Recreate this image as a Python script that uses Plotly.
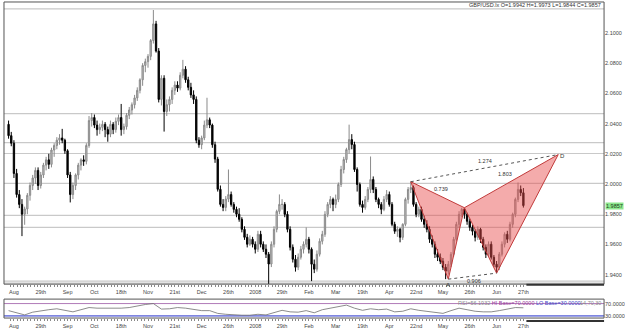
import plotly.graph_objects as go

# ---------------- data ----------------
symbol = "GBP/USD.lx"

opens = [
    2.0395, 2.0320, 2.0270, 2.0070, 1.9930, 1.9865, 1.9800, 1.9835, 1.9925, 1.9990,
    2.0040, 2.0090, 1.9990, 2.0060, 2.0125, 2.0160, 2.0130, 2.0225, 2.0255, 2.0290,
    2.0305, 2.0290, 2.0220, 2.0060, 1.9930, 1.9990, 2.0060, 2.0125, 2.0160, 2.0150,
    2.0255, 2.0420, 2.0440, 2.0390, 2.0360, 2.0375, 2.0395, 2.0360, 2.0330, 2.0395,
    2.0360, 2.0415, 2.0440, 2.0360, 2.0380, 2.0455, 2.0490, 2.0525, 2.0570, 2.0620,
    2.0690, 2.0785, 2.0810, 2.0845, 2.0950, 2.1060, 2.0880, 2.0560, 2.0700, 2.0480,
    2.0525, 2.0560, 2.0620, 2.0655, 2.0635, 2.0720, 2.0760, 2.0690, 2.0640, 2.0590,
    2.0560, 2.0290, 2.0260, 2.0305, 2.0390, 2.0425, 2.0390, 2.0260, 2.0165, 1.9965,
    1.9865, 1.9845, 1.9900, 1.9930, 1.9865, 1.9832, 1.9800, 1.9766, 1.9700, 1.9647,
    1.9601, 1.9634, 1.9601, 1.9568, 1.9667, 1.9601, 1.9568, 1.9535, 1.9470, 1.9601,
    1.9700, 1.9819, 1.9865, 1.9865, 1.9799, 1.9700, 1.9581, 1.9502, 1.9449, 1.9515,
    1.9568, 1.9601, 1.9634, 1.9568, 1.9469, 1.9436, 1.9535, 1.9621, 1.9667, 1.9799,
    1.9865, 1.9898, 1.9865, 1.9898, 1.9997, 2.0096, 2.0162, 2.0228, 2.0294, 2.0261,
    2.0096, 1.9997, 1.9865, 1.9845, 1.9898, 1.9964, 2.0030, 1.9964, 1.9898, 1.9865,
    1.9832, 1.9898, 1.9931, 1.9865, 1.9733, 1.9687, 1.9700, 1.9647, 1.9733, 1.9898,
    1.9964, 1.9977, 1.9865, 1.9799, 1.9832, 1.9766, 1.9733, 1.9700, 1.9634, 1.9601,
    1.9535, 1.9515, 1.9489, 1.9449, 1.9423, 1.9469, 1.9535, 1.9634, 1.9733, 1.9799,
    1.9832, 1.9799, 1.9753, 1.9713, 1.9687, 1.9647, 1.9700, 1.9634, 1.9581, 1.9535,
    1.9601, 1.9515, 1.9469, 1.9449, 1.9535, 1.9601, 1.9667, 1.9634, 1.9733, 1.9799,
    1.9898, 1.9964, 1.9942]

highs = [
    2.0420, 2.0345, 2.0290, 2.0100, 1.9960, 1.9900, 1.9850, 1.9940, 2.0010, 2.0060,
    2.0110, 2.0110, 2.0080, 2.0140, 2.0180, 2.0200, 2.0240, 2.0270, 2.0310, 2.0330,
    2.0365, 2.0300, 2.0230, 2.0080, 2.0010, 2.0070, 2.0140, 2.0170, 2.0190, 2.0270,
    2.0450, 2.0470, 2.0460, 2.0420, 2.0400, 2.0420, 2.0410, 2.0380, 2.0420, 2.0410,
    2.0440, 2.0460, 2.0530, 2.0400, 2.0470, 2.0510, 2.0540, 2.0590, 2.0640, 2.0700,
    2.0800, 2.0830, 2.0860, 2.0960, 2.1152, 2.1080, 2.0900, 2.0720, 2.0720, 2.0560,
    2.0580, 2.0640, 2.0680, 2.0680, 2.0740, 2.0822, 2.0780, 2.0710, 2.0670, 2.0620,
    2.0580, 2.0310, 2.0320, 2.0420, 2.0571, 2.0440, 2.0400, 2.0280, 2.0180, 1.9990,
    1.9900, 1.9920, 2.0096, 1.9950, 1.9880, 1.9850, 1.9840, 1.9780, 1.9720, 1.9670,
    1.9660, 1.9650, 1.9620, 1.9690, 1.9690, 1.9620, 1.9600, 1.9550, 1.9620, 1.9720,
    1.9830, 1.9931, 1.9900, 1.9880, 1.9820, 1.9720, 1.9600, 1.9530, 1.9540, 1.9590,
    1.9620, 1.9713, 1.9650, 1.9580, 1.9500, 1.9560, 1.9640, 1.9690, 1.9820, 1.9880,
    1.9920, 1.9910, 1.9930, 2.0010, 2.0120, 2.0180, 2.0240, 2.0393, 2.0330, 2.0280,
    2.0110, 2.0010, 1.9890, 1.9920, 1.9980, 2.0182, 2.0050, 1.9980, 1.9910, 1.9880,
    1.9920, 1.9960, 1.9950, 1.9880, 1.9750, 1.9720, 1.9710, 1.9740, 1.9910, 1.9980,
    2.0015, 1.9990, 1.9880, 1.9850, 1.9850, 1.9790, 1.9760, 1.9720, 1.9660, 1.9620,
    1.9570, 1.9540, 1.9510, 1.9470, 1.9490, 1.9550, 1.9650, 1.9750, 1.9820, 1.9843,
    1.9840, 1.9810, 1.9770, 1.9730, 1.9700, 1.9720, 1.9710, 1.9650, 1.9600, 1.9620,
    1.9620, 1.9530, 1.9490, 1.9550, 1.9620, 1.9680, 1.9690, 1.9750, 1.9810, 1.9910,
    2.0010, 1.9990, 1.9973]

lows = [
    2.0300, 2.0250, 2.0040, 1.9910, 1.9840, 1.9655, 1.9730, 1.9800, 1.9890, 1.9960,
    2.0000, 1.9960, 1.9970, 2.0040, 2.0090, 2.0100, 2.0110, 2.0180, 2.0230, 2.0260,
    2.0270, 2.0200, 2.0040, 1.9878, 1.9900, 1.9960, 2.0030, 2.0090, 2.0120, 2.0130,
    2.0240, 2.0380, 2.0370, 2.0320, 2.0330, 2.0350, 2.0310, 2.0280, 2.0310, 2.0330,
    2.0340, 2.0390, 2.0320, 2.0330, 2.0360, 2.0430, 2.0460, 2.0500, 2.0550, 2.0600,
    2.0650, 2.0740, 2.0770, 2.0820, 2.0930, 2.0870, 2.0540, 2.0520, 2.0347, 2.0450,
    2.0480, 2.0530, 2.0590, 2.0610, 2.0620, 2.0700, 2.0670, 2.0620, 2.0570, 2.0530,
    2.0270, 2.0240, 2.0230, 2.0290, 2.0370, 2.0370, 2.0240, 2.0140, 1.9950, 1.9850,
    1.9820, 1.9820, 1.9880, 1.9850, 1.9810, 1.9780, 1.9750, 1.9680, 1.9630, 1.9580,
    1.9590, 1.9580, 1.9540, 1.9550, 1.9580, 1.9550, 1.9510, 1.9337, 1.9450, 1.9580,
    1.9680, 1.9800, 1.9830, 1.9780, 1.9680, 1.9560, 1.9480, 1.9420, 1.9430, 1.9500,
    1.9540, 1.9580, 1.9540, 1.9357, 1.9410, 1.9420, 1.9520, 1.9600, 1.9650, 1.9780,
    1.9840, 1.9820, 1.9840, 1.9880, 1.9980, 2.0070, 2.0140, 2.0200, 2.0230, 2.0080,
    1.9950, 1.9850, 1.9810, 1.9830, 1.9880, 1.9940, 1.9940, 1.9880, 1.9840, 1.9800,
    1.9820, 1.9880, 1.9850, 1.9720, 1.9670, 1.9650, 1.9614, 1.9630, 1.9720, 1.9870,
    1.9940, 1.9850, 1.9780, 1.9780, 1.9750, 1.9710, 1.9680, 1.9610, 1.9580, 1.9510,
    1.9490, 1.9470, 1.9430, 1.9370, 1.9400, 1.9450, 1.9520, 1.9620, 1.9710, 1.9780,
    1.9770, 1.9730, 1.9690, 1.9660, 1.9620, 1.9630, 1.9610, 1.9560, 1.9510, 1.9520,
    1.9500, 1.9450, 1.9410, 1.9430, 1.9520, 1.9580, 1.9610, 1.9620, 1.9710, 1.9780,
    1.9880, 1.9920, 1.9844]

closes = [
    2.0320, 2.0270, 2.0070, 1.9930, 1.9865, 1.9800, 1.9835, 1.9925, 1.9990, 2.0040,
    2.0090, 1.9990, 2.0060, 2.0125, 2.0160, 2.0130, 2.0225, 2.0255, 2.0290, 2.0305,
    2.0290, 2.0220, 2.0060, 1.9930, 1.9990, 2.0060, 2.0125, 2.0160, 2.0150, 2.0255,
    2.0420, 2.0440, 2.0390, 2.0360, 2.0375, 2.0395, 2.0360, 2.0330, 2.0395, 2.0360,
    2.0415, 2.0440, 2.0360, 2.0380, 2.0455, 2.0490, 2.0525, 2.0570, 2.0620, 2.0690,
    2.0785, 2.0810, 2.0845, 2.0950, 2.1060, 2.0880, 2.0560, 2.0700, 2.0480, 2.0525,
    2.0560, 2.0620, 2.0655, 2.0635, 2.0720, 2.0760, 2.0690, 2.0640, 2.0590, 2.0560,
    2.0290, 2.0260, 2.0305, 2.0390, 2.0425, 2.0390, 2.0260, 2.0165, 1.9965, 1.9865,
    1.9845, 1.9900, 1.9930, 1.9865, 1.9832, 1.9800, 1.9766, 1.9700, 1.9647, 1.9601,
    1.9634, 1.9601, 1.9568, 1.9667, 1.9601, 1.9568, 1.9535, 1.9470, 1.9601, 1.9700,
    1.9819, 1.9865, 1.9865, 1.9799, 1.9700, 1.9581, 1.9502, 1.9449, 1.9515, 1.9568,
    1.9601, 1.9634, 1.9568, 1.9469, 1.9436, 1.9535, 1.9621, 1.9667, 1.9799, 1.9865,
    1.9898, 1.9865, 1.9898, 1.9997, 2.0096, 2.0162, 2.0228, 2.0294, 2.0261, 2.0096,
    1.9997, 1.9865, 1.9845, 1.9898, 1.9964, 2.0030, 1.9964, 1.9898, 1.9865, 1.9832,
    1.9898, 1.9931, 1.9865, 1.9733, 1.9687, 1.9700, 1.9647, 1.9733, 1.9898, 1.9964,
    1.9977, 1.9865, 1.9799, 1.9832, 1.9766, 1.9733, 1.9700, 1.9634, 1.9601, 1.9535,
    1.9515, 1.9489, 1.9449, 1.9423, 1.9469, 1.9535, 1.9634, 1.9733, 1.9799, 1.9832,
    1.9799, 1.9753, 1.9713, 1.9687, 1.9647, 1.9700, 1.9634, 1.9581, 1.9535, 1.9601,
    1.9515, 1.9469, 1.9449, 1.9535, 1.9601, 1.9667, 1.9634, 1.9733, 1.9799, 1.9898,
    1.9964, 1.9942, 1.9857]

# RSI readings (every third bar)
rsi_values = [47, 40, 33, 42, 47, 50, 53, 47, 43, 50,
              57, 55, 55, 53, 55, 57, 63, 67, 70, 52,
              53, 57, 55, 52, 47, 47, 38, 35, 33, 32,
              32, 35, 33, 40, 48, 43, 42, 47, 40, 50,
              55, 60, 65, 55, 48, 53, 50, 52, 43, 45,
              53, 48, 45, 42, 38, 47, 55, 50, 45, 43,
              43, 47, 52, 57, 56.1932]
rsi_step = 3
rsi_hi, rsi_lo = 70, 30

# x-axis labels (one every 10 bars, starting at bar 2)
x_labels = ["Aug", "29th", "Sep", "Oct", "18th", "Nov", "21st", "Dec", "26th", "2008",
            "29th", "Feb", "Mar", "19th", "Apr", "22nd", "May", "26th", "Jun", "27th"]
label_first, label_every = 2, 10

# price axis ticks
price_ticks = [1.94, 1.96, 1.98, 2.00, 2.02, 2.04, 2.06, 2.08, 2.10]

# horizontal levels drawn on the chart
levels = [2.1159, 2.0466, 2.0274, 2.0202, 2.0004, 1.9792, 1.9713, 1.9357, 1.9344]

# harmonic pattern points X, A, B, C, D
pattern_names = ["X", "A", "B", "C", "D"]
pattern_bars = [150, 164, 170, 182, 205]
pattern_prices = [2.0015, 1.9370, 1.9843, 1.9410, 2.0195]
ratio_texts = {"XB": "0.739", "AC": "0.906", "XD": "1.274", "BD": "1.803"}

# ---------------- layout geometry (pixels) ----------------
W, H = 625, 332
LEFT, RIGHT = 4, 606
MAIN_TOP, MAIN_BOT = 2, 285
SUB_TOP, SUB_BOT = 300, 319
BAR_PX = 2.69
BAR0_PX = 8.6
FONT = "Liberation Sans"


def fx(p):
    return p / W


def fy(p):
    return 1 - p / H


bars = list(range(len(closes)))
x_lo = (LEFT - BAR0_PX) / BAR_PX
x_hi = (RIGHT - BAR0_PX) / BAR_PX
y_lo, y_hi = 1.9337, 2.1205
r_lo, r_hi = 22.8, 84.6

fig = go.Figure()

fig.add_trace(go.Candlestick(
    x=bars, open=opens, high=highs, low=lows, close=closes,
    increasing=dict(line=dict(color="#8a8a8a", width=1), fillcolor="#c4c4c4"),
    decreasing=dict(line=dict(color="#000000", width=1), fillcolor="#000000"),
    whiskerwidth=0, showlegend=False, hoverinfo="skip", xaxis="x", yaxis="y"))

# pattern triangles X-A-B and B-C-D
for tri in ([0, 1, 2, 0], [2, 3, 4, 2]):
    fig.add_trace(go.Scatter(
        x=[pattern_bars[i] for i in tri], y=[pattern_prices[i] for i in tri],
        mode="lines", fill="toself", fillcolor="rgba(232,76,76,0.47)",
        line=dict(color="#c03a3a", width=1), showlegend=False, hoverinfo="skip",
        xaxis="x", yaxis="y"))

# dotted X-D and A-C
for a, b in ((0, 4), (1, 3)):
    fig.add_trace(go.Scatter(
        x=[pattern_bars[a], pattern_bars[b]], y=[pattern_prices[a], pattern_prices[b]],
        mode="lines", line=dict(color="#555555", width=1, dash="dot"),
        showlegend=False, hoverinfo="skip", xaxis="x", yaxis="y"))

# RSI line
rsi_x = [i * rsi_step for i in range(len(rsi_values))]
fig.add_trace(go.Scatter(
    x=rsi_x, y=rsi_values, mode="lines", line=dict(color="#6e6e6e", width=0.8),
    showlegend=False, hoverinfo="skip", xaxis="x2", yaxis="y2"))

shapes = []
for lv in levels:
    shapes.append(dict(type="line", xref="x domain", yref="y", x0=0, x1=1, y0=lv, y1=lv,
                       line=dict(color="#c9c9c9", width=1.2), layer="below"))
# RSI base lines
shapes.append(dict(type="line", xref="x2 domain", yref="y2", x0=0, x1=1, y0=rsi_hi, y1=rsi_hi,
                   line=dict(color="#b07ab8", width=1), layer="below"))
shapes.append(dict(type="line", xref="x2 domain", yref="y2", x0=0, x1=1, y0=rsi_lo, y1=rsi_lo,
                   line=dict(color="#7f86e0", width=1.8), layer="below"))
# frames
for top, bot in ((MAIN_TOP, MAIN_BOT), (SUB_TOP, SUB_BOT)):
    shapes.append(dict(type="rect", xref="paper", yref="paper",
                       x0=fx(LEFT), x1=fx(RIGHT), y0=fy(bot), y1=fy(top),
                       line=dict(color="#555555", width=1), fillcolor="rgba(0,0,0,0)"))
# dark segment after last bar on bottom edges
last_px = BAR0_PX + BAR_PX * bars[-1] + 3
shapes.append(dict(type="line", xref="paper", yref="paper", x0=fx(last_px), x1=fx(RIGHT),
                   y0=fy(MAIN_BOT + 0.5), y1=fy(MAIN_BOT + 0.5), line=dict(color="#333333", width=2)))
shapes.append(dict(type="line", xref="paper", yref="paper", x0=fx(last_px), x1=fx(RIGHT),
                   y0=fy(SUB_BOT + 3), y1=fy(SUB_BOT + 3), line=dict(color="#333333", width=2)))

annotations = []
# title readout
annotations.append(dict(
    xref="paper", yref="paper", x=fx(RIGHT - 1), y=fy(5.5), xanchor="right", yanchor="middle",
    text=f"{symbol} O={opens[-1]:.4f} H={highs[-1]:.4f} L={lows[-1]:.4f} C={closes[-1]:.4f}",
    showarrow=False, font=dict(family=FONT, size=5.5, color="#333333")))
# current price box
annotations.append(dict(
    xref="paper", yref="y", x=fx(RIGHT + 1), y=closes[-1], xanchor="left", yanchor="middle",
    text=f"{closes[-1]:.4f}", showarrow=False, bgcolor="#8de88d", borderpad=0,
    font=dict(family=FONT, size=5.5, color="#1a3a1a")))
# RSI readout
annotations.append(dict(
    xref="paper", yref="paper", x=fx(585), y=fy(303.5), xanchor="right", yanchor="middle",
    text=(f'<span style="color:#8a8a8a">RSI={rsi_values[-1]:.4f}</span> '
          f'<span style="color:#9a3c9a">HI Base={rsi_hi:.4f}</span> '
          f'<span style="color:#3c46c8">LO Base={rsi_lo:.4f}</span>'),
    showarrow=False, font=dict(family=FONT, size=5.5)))
annotations.append(dict(
    xref="paper", yref="paper", x=fx(605), y=fy(303.5), xanchor="right", yanchor="middle",
    text=f"14,{rsi_hi},{rsi_lo}", showarrow=False, font=dict(family=FONT, size=5.5, color="#8a8a8a")))

# pattern point labels
annotations.append(dict(x=pattern_bars[1], y=pattern_prices[1], xref="x", yref="y", text="A",
                        showarrow=False, yshift=-6, font=dict(family=FONT, size=6, color="#333")))
annotations.append(dict(x=pattern_bars[4], y=pattern_prices[4], xref="x", yref="y", text="D",
                        showarrow=False, xshift=4, yshift=-1, font=dict(family=FONT, size=6, color="#333")))
# ratio labels
ratio_pairs = {"XB": (0, 2, 3, 6), "AC": (1, 3, 2, -5), "XD": (0, 4, 0, 7), "BD": (2, 4, -6, 7)}
for key, (a, b, dx, dy) in ratio_pairs.items():
    annotations.append(dict(
        x=(pattern_bars[a] + pattern_bars[b]) / 2, y=(pattern_prices[a] + pattern_prices[b]) / 2,
        xref="x", yref="y", text=ratio_texts[key], showarrow=False, xshift=dx, yshift=dy,
        font=dict(family=FONT, size=5.5, color="#333")))

tickvals = [label_first + label_every * i for i in range(len(x_labels))]
minor_vals = [label_first - 1.25 + 1.25 * k for k in range(int((bars[-1] - label_first + 1.25) / 1.25) + 1)]

xcommon = dict(range=[x_lo, x_hi], domain=[fx(LEFT), fx(RIGHT)], showgrid=False, zeroline=False,
               tickmode="array", tickvals=tickvals, ticktext=x_labels, ticks="outside",
               ticklen=2, tickwidth=1, tickcolor="#888888", showline=False,
               tickfont=dict(family=FONT, size=5.5, color="#444444"),
               minor=dict(tickvals=minor_vals, ticks="outside", ticklen=2, tickwidth=1,
                          tickcolor="#888888", showgrid=False),
               rangeslider=dict(visible=False), fixedrange=True)

fig.update_layout(
    width=W, height=H, margin=dict(l=0, r=0, t=0, b=0),
    paper_bgcolor="white", plot_bgcolor="white", showlegend=False,
    xaxis=dict(xcommon, anchor="y"),
    xaxis2=dict(xcommon, anchor="y2", matches="x"),
    yaxis=dict(domain=[fy(MAIN_BOT), fy(MAIN_TOP)], range=[y_lo, y_hi], side="right",
               anchor="x", showgrid=False, zeroline=False, tickmode="array",
               tickvals=price_ticks, ticktext=[f"{v:.4f}" for v in price_ticks], ticks="",
               tickfont=dict(family=FONT, size=5.5, color="#444444"), fixedrange=True),
    yaxis2=dict(domain=[fy(SUB_BOT), fy(SUB_TOP)], range=[r_lo, r_hi], side="right",
                anchor="x2", showgrid=False, zeroline=False, tickmode="array",
                tickvals=[rsi_hi, rsi_lo], ticktext=[f"{rsi_hi:.4f}", f"{rsi_lo:.4f}"], ticks="",
                tickfont=dict(family=FONT, size=5.5, color="#444444"), fixedrange=True),
    shapes=shapes, annotations=annotations,
)

fig.write_html("out.html")
